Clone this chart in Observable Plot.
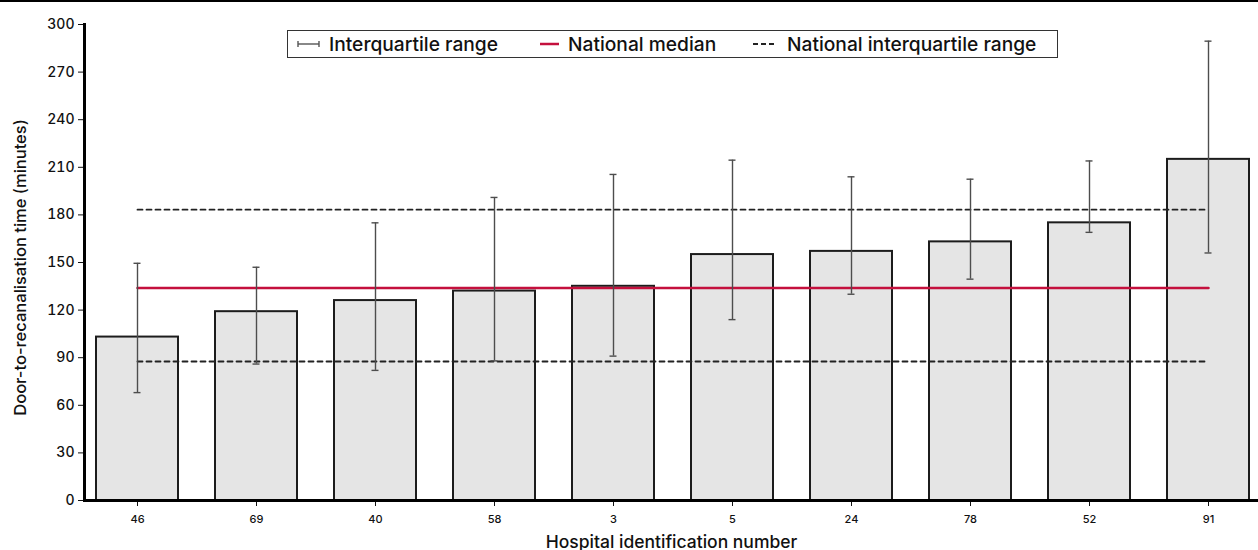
<!DOCTYPE html>
<html><head><meta charset="utf-8">
<script src="https://cdn.jsdelivr.net/npm/d3@7"></script>
<script src="https://cdn.jsdelivr.net/npm/@observablehq/plot@0.6"></script>
<style>
body{margin:0;background:#fff;font-family:Inter, sans-serif;}
#wrap{position:relative;width:1258px;height:550px;overflow:hidden;}
#topline{position:absolute;left:0;top:0;width:1258px;height:2px;background:#000;}
#legend{position:absolute;left:287px;top:30px;width:771px;height:28px;box-sizing:border-box;border:1px solid #333;background:#fff;font-size:19.2px;font-weight:500;color:#111;}
#legend .sym{position:absolute;top:7px;}
#legend .lab{position:absolute;top:0;line-height:26px;white-space:nowrap;}
</style></head>
<body>
<div id="wrap">
  <div id="chart"></div>
  <div id="topline"></div>
  <div id="legend">
    <svg class="sym" style="left:9px" width="23" height="12"><line x1="1" y1="6" x2="22" y2="6" stroke="#555" stroke-width="1.4"/><line x1="1" y1="3" x2="1" y2="9" stroke="#555" stroke-width="1.4"/><line x1="22" y1="3" x2="22" y2="9" stroke="#555" stroke-width="1.4"/></svg>
    <span class="lab" style="left:41px">Interquartile range</span>
    <svg class="sym" style="left:251px" width="21" height="12"><line x1="1" y1="6" x2="20" y2="6" stroke="#c4103d" stroke-width="2.5"/></svg>
    <span class="lab" style="left:280px">National median</span>
    <svg class="sym" style="left:464px" width="23" height="12"><line x1="1" y1="6" x2="22" y2="6" stroke="#222" stroke-width="1.8" stroke-dasharray="5,3"/></svg>
    <span class="lab" style="left:499px">National interquartile range</span>
  </div>
</div>
<script>
const hospitals   = ["46", "69", "40", "58", "3", "5", "24", "78", "52", "91"];
const medianTimes = [103, 119, 126, 132, 135, 155, 157, 163, 175, 215];
const q1Times     = [68, 86, 82, 88, 91, 114, 130, 139.5, 169, 156];
const q3Times     = [149.5, 147, 175, 191, 205.5, 214.5, 204, 202.5, 214, 289.5];
const nationalMedian = 134;
const nationalQ1 = 87.6;
const nationalQ3 = 183.3;
const yTicks = [0, 30, 60, 90, 120, 150, 180, 210, 240, 270, 300];

const rows = hospitals.map((h, i) => ({hospital: h, median: medianTimes[i], q1: q1Times[i], q3: q3Times[i]}));
const ends = [hospitals[0], hospitals[hospitals.length - 1]];
const national = v => ends.map(h => ({hospital: h, v}));
const errStyle = {stroke: "#4d4d4d", strokeWidth: 1.4};

const chart = Plot.plot({
  width: 1258, height: 550,
  marginLeft: 84, marginRight: 0, marginTop: 24, marginBottom: 50,
  style: {fontFamily: "Inter, sans-serif", color: "#111", background: "transparent", overflow: "visible"},
  x: {type: "band", domain: hospitals, range: [84, 1261], paddingInner: 0.313, paddingOuter: 0.09},
  y: {domain: [0, 300]},
  marks: [
    Plot.barY(rows, {x: "hospital", y: "median", fill: "#e5e5e5", stroke: "#1c1c1c", strokeWidth: 2}),
    Plot.lineY(national(nationalQ1), {x: "hospital", y: "v", stroke: "#222", strokeWidth: 1.8, strokeDasharray: "5,4"}),
    Plot.lineY(national(nationalQ3), {x: "hospital", y: "v", stroke: "#222", strokeWidth: 1.8, strokeDasharray: "5,4"}),
    Plot.lineY(national(nationalMedian), {x: "hospital", y: "v", stroke: "#c4103d", strokeWidth: 2.5}),
    Plot.ruleX(rows, {x: "hospital", y1: "q1", y2: "q3", ...errStyle}),
    Plot.tickY(rows, {x: "hospital", y: "q1", insetLeft: 37.5, insetRight: 37.5, ...errStyle}),
    Plot.tickY(rows, {x: "hospital", y: "q3", insetLeft: 37.5, insetRight: 37.5, ...errStyle}),
    Plot.axisY(yTicks, {tickSize: 6, tickPadding: 4, fontSize: 14, fontWeight: 500, label: null}),
    Plot.axisX({tickSize: 6, tickPadding: 9, fontSize: 11, fontWeight: 500, label: null}),
    Plot.ruleY([0], {stroke: "#000", strokeWidth: 3}),
    Plot.frame({anchor: "left", stroke: "#000", strokeWidth: 3}),
    Plot.text(["Hospital identification number"], {text: d => d, frameAnchor: "bottom", dy: 47, fontSize: 17.5, fontWeight: 500}),
    Plot.text(["Door-to-recanalisation time (minutes)"], {text: d => d, frameAnchor: "left", textAnchor: "middle", dx: -64, dy: 5, rotate: -90, fontSize: 16.5, fontWeight: 500})
  ]
});
document.getElementById("chart").appendChild(chart);
</script>
</body></html>
